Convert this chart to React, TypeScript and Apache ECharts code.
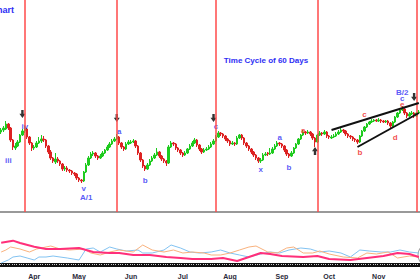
import React, { useEffect, useRef } from "react";
import * as echarts from "echarts";

// Daily candles: [open, close, low, high]
const candles: number[][] = [
  [168,170,166,172],[170,172,168,174],[171,176,170,179],[176,172,170,177],[172,160,158,173],
  [160,153,150,161],[152,154,150,157],[154,158,153,160],[158,165,157,166],[165,169,164,171],
  [169,171,167,174],[171,163,161,172],[163,157,155,164],[157,152,149,158],[152,153,150,155],
  [153,157,152,159],[157,159,156,163],[159,161,157,165],[161,160,158,164],[160,154,152,161],
  [154,148,146,155],[148,142,140,150],[142,139,137,143],[138,141,136,147],[141,139,137,143],
  [139,136,134,140],[136,131,129,137],[131,132,129,134],[132,130,128,134],[130,129,127,131],
  [129,127,125,130],[127,126,124,128],[126,122,120,127],[122,120,118,123],[120,119,117,121],
  [119,128,118,129],[128,135,127,137],[135,142,134,144],[142,146,141,148],[146,147,144,149],
  [147,144,142,148],[144,142,140,145],[142,144,141,146],[144,147,143,149],[147,150,146,151],
  [150,153,149,155],[153,156,152,158],[156,159,155,161],[159,161,158,163],[161,163,160,166],
  [163,157,155,164],[157,153,151,158],[153,151,149,154],[151,156,150,158],[156,158,155,160],
  [157,158,156,160],[158,159,157,161],[159,154,152,160],[154,147,145,155],[147,140,138,148],
  [140,134,132,141],[134,131,129,135],[131,135,130,137],[135,139,134,141],[139,142,138,144],
  [142,145,141,147],[145,148,144,152],[148,144,142,149],[144,141,139,145],[141,139,137,142],
  [139,137,134,140],[137,153,136,155],[153,157,152,159],[157,156,154,158],[156,152,150,157],
  [152,150,148,153],[150,147,145,151],[147,145,143,148],[145,147,144,149],[147,151,146,152],
  [151,154,150,156],[154,157,153,159],[157,160,156,162],[160,155,153,161],[155,151,149,156],
  [151,148,146,152],[148,150,147,152],[150,151,149,153],[151,153,150,155],[153,156,152,158],
  [156,159,155,161],[159,163,158,165],[163,167,162,169],[167,166,164,168],[166,164,162,167],
  [164,161,159,165],[161,159,157,162],[159,156,154,160],[156,157,155,159],[157,156,154,158],
  [156,162,155,164],[162,165,161,166],[165,162,160,166],[162,157,155,163],[157,154,152,158],
  [154,151,149,155],[151,148,146,152],[148,145,143,149],[145,142,140,146],[142,139,137,143],
  [139,140,137,142],[140,145,139,147],[145,146,144,148],[147,146,144,148],[146,147,145,152],
  [147,151,146,153],[151,154,150,156],[154,157,153,159],[157,156,154,158],[156,154,152,157],
  [154,150,148,155],[150,146,144,151],[146,144,142,147],[144,147,143,149],[147,152,146,153],
  [152,156,151,157],[156,161,155,162],[161,165,160,166],[165,168,164,170],[168,167,165,169],
  [167,168,166,170],[168,166,164,169],[166,162,160,167],[162,158,153,163],[158,165,157,166],
  [165,167,164,169],[167,166,164,168],[166,168,165,170],[168,164,162,169],[164,163,161,165],
  [162,163,161,165],[163,164,162,166],[164,166,163,168],[166,168,165,170],[168,170,167,172],
  [170,169,167,171],[169,166,164,170],[166,164,162,167],[164,163,161,165],[163,161,159,164],
  [161,160,158,162],[160,158,156,161],[158,164,157,165],[164,169,163,170],[169,173,168,174],
  [173,176,172,177],[176,178,175,179],[178,179,177,181],[179,180,178,181],[180,179,178,181],
  [179,180,178,182],[180,179,177,181],[179,178,177,180],[178,179,177,180],[179,177,175,180],
  [177,174,172,178],[174,178,173,179],[178,183,177,184],[183,187,182,188],[187,190,186,192],
  [190,191,189,194],[191,187,185,192],[187,184,182,188],[184,186,183,188],[186,187,185,189],
  [187,184,182,188],[184,187,183,188],[187,188,186,190],
];

const days = candles.map((_, i) => String(i));

const monthLabels = ["Apr", "May", "Jun", "Jul", "Aug", "Sep", "Oct", "Nov"];
const monthStartIdx = [14, 33, 55, 77, 97, 119, 139, 160];

// 60-day time cycle lines (day index)
const cycleDays = [10, 49, 91, 134, 176];

// Channel trend lines [[day, price], [day, price]]
const upperChannel = [[140, 170], [177, 197]];
const lowerChannel = [[151, 153], [177, 187]];

// Wave labels [day, price, text, colour key]
const waveLabels: [number, number, string, string][] = [
  [3, 140, "iii", "b"], [10, 174, "iv", "b"], [35, 112, "v", "b"], [36, 103, "A/1", "b"],
  [50, 169, "a", "b"], [61, 120, "b", "b"], [91, 174, "c", "b"], [110, 131, "x", "b"],
  [118, 163, "a", "b"], [122, 133, "b", "b"], [128, 170, "a", "r"], [152, 148, "b", "r"],
  [154, 186, "c", "r"], [167, 163, "d", "r"], [170, 196, "e", "r"], [169.5, 202, "c", "b"],
  [170, 208, "B/2", "b"],
];

// Cycle arrows [day, price, direction]
const arrows: [number, number, string][] = [
  [9, 186, "down"], [49, 182, "down"], [90, 182, "down"], [133, 149, "up"], [175, 203, "down"],
];

// Oscillator lines [day, value]
const oscPink = [
  [0,67],[5,73],[8,66],[14,55],[19,48],[25,48],[33,51],[39,39],[46,36],[50,36],[56,30],[63,30],
  [70,24],[76,21],[81,18],[89,18],[94,21],[100,12],[105,24],[110,36],[114,33],[119,27],[128,24],
  [134,27],[139,18],[148,15],[155,21],[162,27],[168,36],[173,33],[177,24],
];
const oscBlue = [
  [0,6],[3,15],[5,24],[8,27],[11,21],[14,15],[16,24],[19,24],[22,27],[28,21],[33,15],[36,48],
  [39,51],[42,39],[46,54],[49,48],[53,42],[58,45],[60,36],[64,36],[69,45],[72,60],[76,51],[80,39],
  [84,36],[89,39],[93,45],[97,36],[101,30],[105,24],[110,33],[114,39],[118,36],[122,45],[127,51],
  [131,48],[135,39],[139,42],[144,36],[148,24],[152,45],[156,42],[161,39],[165,39],[169,45],
  [173,39],[177,36],
];
const oscOrange = [
  [0,39],[2,45],[4,54],[8,48],[12,39],[15,48],[21,57],[25,48],[29,45],[35,48],[38,36],[42,30],
  [46,39],[50,45],[56,39],[60,60],[64,45],[69,39],[73,45],[77,36],[81,39],[86,36],[89,30],[93,30],
  [97,36],[101,45],[105,54],[108,57],[113,39],[117,36],[121,51],[124,54],[128,36],[132,36],
  [135,42],[139,33],[145,24],[151,21],[155,36],[159,33],[164,39],[168,21],[173,27],[177,24],
];

const BLUE = "#2e2ef5";
const RED = "#ee2020";
const FONT = "Arial, 'Liberation Sans', sans-serif";

export default function App() {
  const ref = useRef<HTMLDivElement>(null);
  useEffect(() => {
    if (!ref.current) return;
    const chart = echarts.init(ref.current, null, { renderer: "svg" });
    const n = candles.length;
    chart.setOption({
      animation: false,
      backgroundColor: "#ffffff",
      grid: [
        { left: 0, right: 0, top: 0, height: 212 },
        { left: 0, right: 0, top: 235, height: 30 },
      ],
      xAxis: [
        {
          type: "category", gridIndex: 0, data: days, boundaryGap: true,
          axisLine: { show: true, lineStyle: { color: "#999", width: 2 } },
          axisTick: { show: false }, axisLabel: { show: false }, splitLine: { show: false },
        },
        {
          type: "category", gridIndex: 1, data: days, boundaryGap: true, offset: 4,
          axisLine: { show: true, lineStyle: { color: "#111", width: 4 } },
          axisTick: { show: true, inside: true, interval: 0, length: 1, lineStyle: { color: "#ccc", width: 1 } },
          axisLabel: {
            show: true, margin: 4, fontSize: 7, fontWeight: "bold", color: "#2a2a3a", fontFamily: FONT,
            interval: (idx: number) => monthStartIdx.includes(idx),
            formatter: (_v: string, idx: number) => {
              const k = monthStartIdx.indexOf(idx);
              return k >= 0 ? monthLabels[k] : "";
            },
          },
          splitLine: { show: false },
        },
        {
          type: "value", gridIndex: 1, min: -0.5, max: n - 0.5, show: false,
        },
      ],
      yAxis: [
        { type: "value", gridIndex: 0, min: 88, max: 300, show: false, splitLine: { show: false } },
        { type: "value", gridIndex: 1, min: 0, max: 90, show: false, splitLine: { show: false } },
      ],
      graphic: [
        {
          type: "text", left: undefined, x: 14, y: 5,
          style: { text: "Chart", textAlign: "right", fill: BLUE, font: `bold 9px ${FONT}` },
        },
        {
          type: "text", x: 266, y: 56,
          style: { text: "Time Cycle of 60 Days", textAlign: "center", fill: BLUE, font: `bold 8px ${FONT}` },
        },
        {
          type: "circle", shape: { cx: 430, cy: 255, r: 12 },
          style: { fill: "none", stroke: "#999", lineWidth: 1 },
        },
      ],
      series: [
        {
          type: "candlestick", xAxisIndex: 0, yAxisIndex: 0, data: candles, barWidth: 2,
          itemStyle: { color: "#1ecb1e", color0: "#dd2222", borderColor: "#1ecb1e", borderColor0: "#dd2222", borderWidth: 1 },
          markLine: {
            silent: true, symbol: "none", animation: false,
            label: { show: false },
            data: [
              ...cycleDays.map((d) => ({ xAxis: d, lineStyle: { color: "#ff4a4a", width: 1.5, type: "solid" } })),
              [
                { coord: upperChannel[0], lineStyle: { color: "#111", width: 2, type: "solid" } },
                { coord: upperChannel[1] },
              ],
              [
                { coord: lowerChannel[0], lineStyle: { color: "#111", width: 2, type: "solid" } },
                { coord: lowerChannel[1] },
              ],
            ],
          },
        },
        {
          type: "scatter", xAxisIndex: 0, yAxisIndex: 0, symbolSize: 0, silent: true,
          data: waveLabels.map(([d, p, t, c]) => ({
            value: [d, p], name: t,
            label: { color: c === "r" ? RED : BLUE },
          })),
          label: {
            show: true, position: "inside", formatter: (p: any) => p.name,
            fontSize: 8, fontWeight: "bold", fontFamily: FONT,
          },
        },
        {
          type: "scatter", xAxisIndex: 0, yAxisIndex: 0, silent: true,
          symbol: "path://M3,0 L7,0 L7,5 L10,5 L5,11 L0,5 L3,5 Z",
          symbolSize: [6, 8],
          itemStyle: { color: "#000" },
          data: arrows.map(([d, p, dir]) => ({ value: [d, p], symbolRotate: dir === "up" ? 180 : 0 })),
        },
        {
          type: "line", xAxisIndex: 2, yAxisIndex: 1, data: oscBlue, symbol: "none",
          lineStyle: { color: "#82c3f2", width: 1 },
        },
        {
          type: "line", xAxisIndex: 2, yAxisIndex: 1, data: oscOrange, symbol: "none",
          lineStyle: { color: "#f9b27e", width: 1 },
        },
        {
          type: "line", xAxisIndex: 2, yAxisIndex: 1, data: oscPink, symbol: "none",
          lineStyle: { color: "#ff2f7a", width: 2 },
        },
      ],
    });
    return () => chart.dispose();
  }, []);
  return (
    <div
      ref={ref}
      style={{ position: "fixed", left: 0, top: 0, width: 420, height: 280, background: "#fff" }}
    />
  );
}
